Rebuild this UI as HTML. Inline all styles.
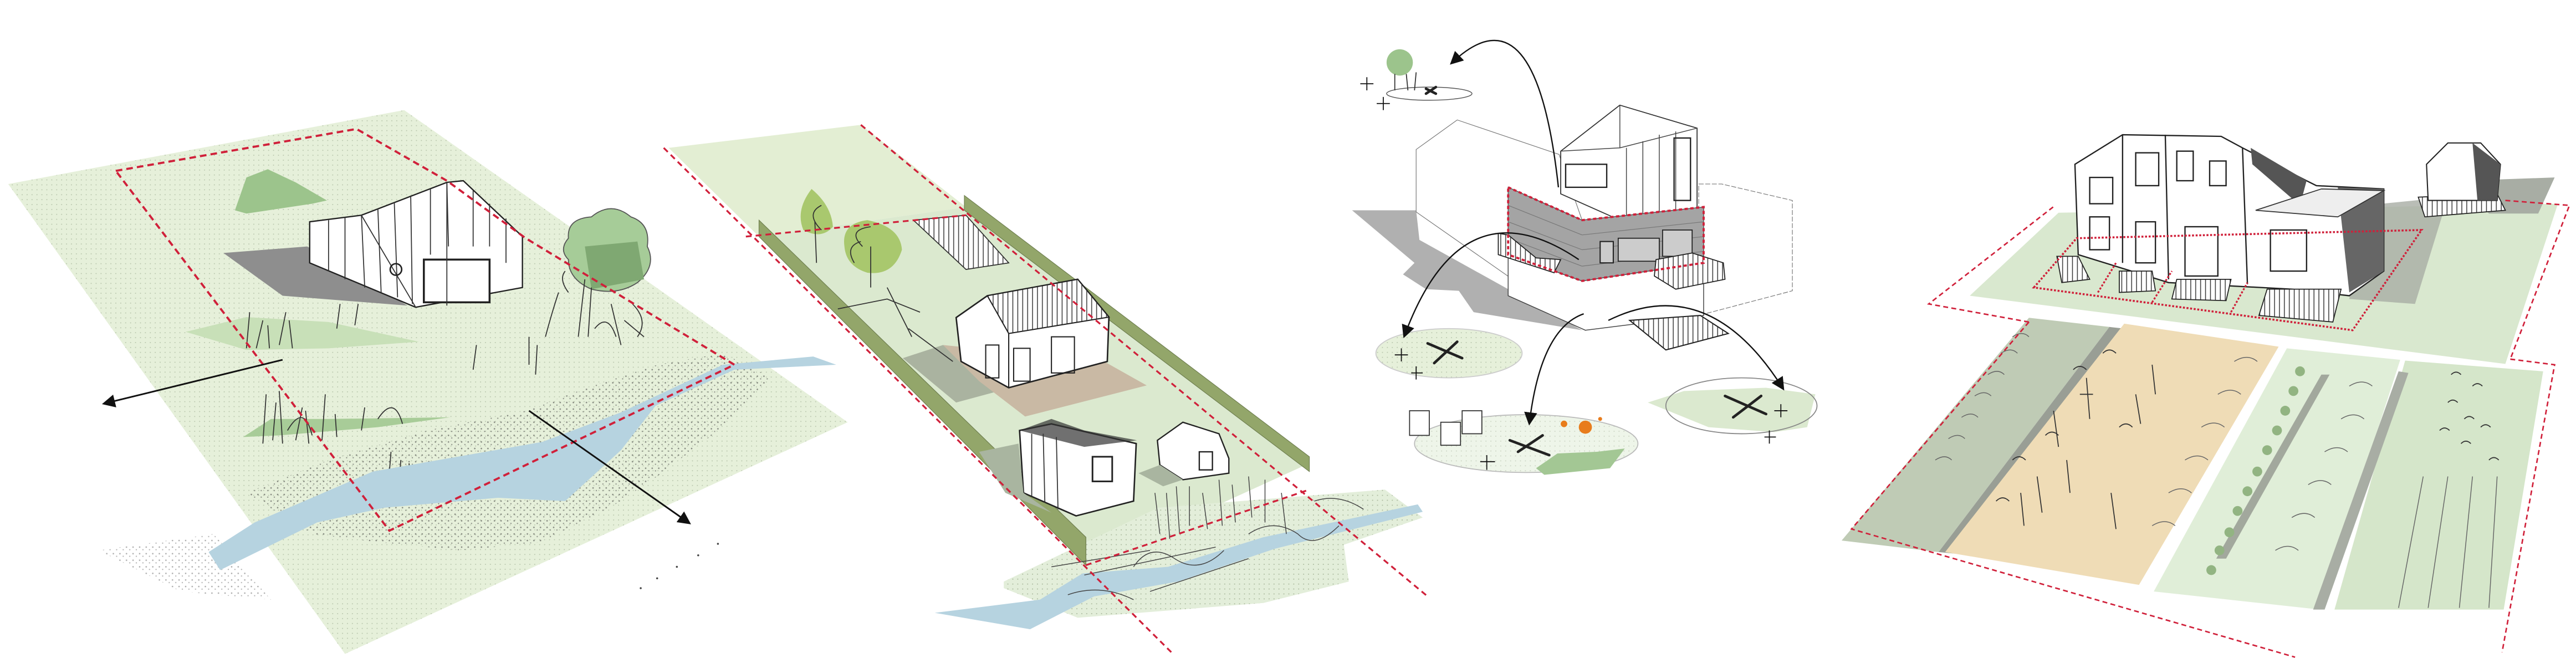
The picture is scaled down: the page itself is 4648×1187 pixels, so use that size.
<!DOCTYPE html>
<html><head><meta charset="utf-8"><style>
html,body{margin:0;padding:0;background:#fff;width:4648px;height:1187px;overflow:hidden}
svg{display:block}
</style></head><body>
<svg width="4648" height="1187" viewBox="0 0 1568 400.5" preserveAspectRatio="none" xmlns="http://www.w3.org/2000/svg">
<defs>
<pattern id="dots" width="3" height="3" patternUnits="userSpaceOnUse"><rect width="3" height="3" fill="#e6f0da"/><circle cx="1.5" cy="1.5" r="0.35" fill="#b9c7ad"/></pattern>
<pattern id="dots2" width="3" height="3" patternUnits="userSpaceOnUse"><rect width="3" height="3" fill="#e3eeda"/><circle cx="1.5" cy="1.5" r="0.35" fill="#a9b89c"/></pattern>
<pattern id="speck" width="4" height="4" patternUnits="userSpaceOnUse"><circle cx="1" cy="1" r="0.45" fill="#333"/><circle cx="3" cy="2.6" r="0.4" fill="#444"/></pattern>
<pattern id="vl" width="3" height="3" patternUnits="userSpaceOnUse"><rect width="3" height="3" fill="#fff"/><line x1="1.5" y1="0" x2="1.5" y2="3" stroke="#333" stroke-width="0.5"/></pattern>
<marker id="ah" markerWidth="8" markerHeight="8" refX="6" refY="4" orient="auto" markerUnits="userSpaceOnUse"><path d="M0,0 L8,4 L0,8 z" fill="#111"/></marker>
</defs>

<!-- ================= PANEL 1 ================= -->
<polygon points="5,112 246,67 516,257 210,398" fill="url(#dots)"/>
<polygon points="150,300 200,280 260,262 320,250 360,235 400,222 440,215 470,230 440,260 400,290 370,310 330,330 280,335 230,330 190,325" fill="url(#speck)" opacity="0.55"/>
<polygon points="60,335 130,325 165,365 110,360" fill="url(#speck)" opacity="0.4"/>
<!-- green blobs -->
<polygon points="143,128 150,108 163,103 180,111 199,122 190,124 150,130" fill="#9cc48c"/>
<polygon points="113,202 150,193 200,196 255,208 200,212 150,213" fill="#c8e0b8"/>
<polygon points="148,266 165,255 200,255 274,254 230,260 170,265" fill="#a8cc98"/>
<!-- shadow -->
<polygon points="136,154 187,150 248,186 172,180" fill="#8e8e8e"/>
<!-- house -->
<polygon points="188.5,135 220,131 272,111 282,110 318,144 318,175 253,187 188.5,160" fill="#fff" stroke="#222" stroke-width="0.8"/>
<rect x="258" y="158" width="40" height="26" fill="#fff" stroke="#222" stroke-width="1.2"/>
<g stroke="#333" stroke-width="0.6">
<line x1="200" y1="134" x2="200" y2="165"/><line x1="210" y1="132" x2="210" y2="170"/><line x1="220" y1="131" x2="222" y2="175"/><line x1="230" y1="127" x2="232" y2="178"/><line x1="240" y1="123" x2="242" y2="181"/><line x1="250" y1="119" x2="251" y2="185"/><line x1="262" y1="115" x2="262" y2="155"/><line x1="272" y1="111" x2="273" y2="150"/><line x1="288" y1="116" x2="288" y2="150"/><line x1="298" y1="124" x2="298" y2="150"/><line x1="308" y1="133" x2="308" y2="160"/>
<line x1="220" y1="131" x2="253" y2="187"/><line x1="272" y1="111" x2="272" y2="186"/>
</g>
<circle cx="241" cy="164" r="3.5" fill="none" stroke="#222" stroke-width="0.9"/>
<!-- tree -->
<path d="M346,145 Q345,133 360,132 Q372,122 384,132 Q396,136 394,150 Q400,162 388,172 Q376,180 360,176 Q346,170 346,158 Q340,152 346,145z" fill="#a6cc98" stroke="#555" stroke-width="0.6"/>
<path d="M356,150 L388,147 L392,170 L360,176z" fill="#7fa872"/>
<g stroke="#333" stroke-width="0.6" fill="none">
<path d="M352,205 L356,170 M358,205 L360,175 M372,185 L378,210 M380,195 L392,205 M332,205 Q336,190 340,178 M346,178 Q340,170 344,165 M362,200 Q370,190 375,205 M385,185 Q395,195 388,205"/>
<path d="M150,212 L152,190 M156,212 L160,195 M164,212 L163,198 M170,210 L174,190 M178,212 L176,195 M160,270 L162,240 M166,268 L168,245 M172,270 L170,238 M180,268 L184,248 M188,270 L186,250 M196,268 L198,240 M205,266 L204,252 M220,262 L222,248 M236,300 L238,275 M242,305 L244,280 M250,300 L249,282 M288,225 L290,210 M322,222 L322,205 M326,228 L327,210 M205,200 L207,185 M216,198 L218,185 M175,262 Q185,245 190,265 M230,255 Q240,240 245,258"/>
</g>
<!-- river -->
<polygon points="127,336 155,318 227,287 330,269 378,251 440,222 495,217 509,222 447,225 399,247 378,274 344,305 303,303 234,309 193,318 134,347" fill="#b6d3e0"/>
<!-- red dashed -->
<polygon points="70.5,104 217,78.5 272,110 320,145 447,222 237,323" fill="none" stroke="#d0203a" stroke-width="1.3" stroke-dasharray="4,2.5"/>
<!-- arrows -->
<line x1="172" y1="219" x2="64" y2="245.5" stroke="#111" stroke-width="1" marker-end="url(#ah)"/>
<line x1="322" y1="250" x2="419" y2="318" stroke="#111" stroke-width="1" marker-end="url(#ah)"/>
<g fill="#444"><circle cx="390" cy="358" r="0.6"/><circle cx="400" cy="352" r="0.6"/><circle cx="412" cy="345" r="0.6"/><circle cx="425" cy="338" r="0.6"/><circle cx="437" cy="331" r="0.6"/></g>

<!-- ================= PANEL 2 ================= -->
<polygon points="407,90 524,76 588,126 462,144" fill="#e3eed3"/>
<polygon points="462,144 588,126 797,282 661,344" fill="#dbe9cf"/>
<polygon points="611,354 705,309 843,298 866,315 818,331.6 821,354 769,367 656,376 611,358" fill="url(#dots2)"/>
<polygon points="569,373 633,365 659,349 711,345 769,327 863,307 866,311.5 776,334 717,354 666,363 627,383 598,378" fill="#b6d3e0"/>
<polygon points="462,134 661,327 661,344 462,144" fill="#93a66a" stroke="#6f7f50" stroke-width="0.4"/>
<polygon points="587,119 797,278 797,287 587,128" fill="#93a66a" stroke="#6f7f50" stroke-width="0.4"/>
<polygon points="549.5,218 574,210 608,238 582,245" fill="#aab3a0"/>
<polygon points="574,210 672,220 698,234.6 624,253.5 596,232" fill="#c9b9a4"/>
<path d="M489,140 Q484,128 494,115 Q506,125 507,138 Q500,146 489,140z" fill="#a9c86e"/>
<path d="M514,150 Q512,136 528,134 Q548,138 549,152 Q544,168 528,166 Q515,162 514,150z" fill="#a9c86e"/>
<g stroke="#333" stroke-width="0.6" fill="none">
<path d="M497,160 L496,135 M530,175 L530,150 M520,160 Q514,150 524,147 M510,188 L540,182 L560,190 M540,175 L555,205 M553,200 L580,220 M500,140 Q490,130 500,125 M525,150 Q515,140 530,138"/>
</g>
<polygon points="556,134 588,131 614,160 588,164" fill="url(#vl)" stroke="#333" stroke-width="0.6"/>
<polygon points="582,193.3 601,180 656,170 675,193 674,220 614,236 585,220" fill="#fff" stroke="#222" stroke-width="0.9"/>
<polygon points="601,180 656,170 675,193 614,203" fill="url(#vl)" stroke="#222" stroke-width="0.7"/>
<g stroke="#222" stroke-width="0.7" fill="none"><rect x="600" y="210" width="8" height="20"/><rect x="617" y="212" width="10" height="20"/><rect x="640" y="205" width="14" height="22"/><line x1="614" y1="203" x2="614" y2="236"/></g>
<polygon points="620.6,262 640,258 691.6,270 690,305 655,314 623,300" fill="#fff" stroke="#222" stroke-width="0.9"/>
<polygon points="620.6,262 640,255 660,262 692,268 660,272" fill="#333" opacity="0.7"/>
<g stroke="#333" stroke-width="0.6"><line x1="628" y1="264" x2="628" y2="302"/><line x1="635" y1="264" x2="636" y2="306"/><line x1="643" y1="266" x2="644" y2="310"/></g>
<rect x="665" y="278" width="12" height="15" fill="#fff" stroke="#222" stroke-width="1"/>
<polygon points="596,275 620,270 623,300 640,312 612,300" fill="#a9b5a0"/>
<polygon points="704.5,268 720,257 742,264 748,279 748,288 720,292 706,283" fill="#fff" stroke="#222" stroke-width="0.8"/>
<polygon points="693,288 706,283 720,292 708,296" fill="#a9b5a0"/>
<rect x="730" y="275" width="8" height="11" fill="#fff" stroke="#222" stroke-width="0.8"/>
<g stroke="#444" stroke-width="0.5" fill="none"><path d="M703,300 L706,325 M710,300 L712,328 M716,296 L718,325 M724,296 L724,320 M732,300 L735,322 M742,292 L744,320 M750,295 L752,318 M760,290 L762,315 M770,292 L770,318 M780,300 L783,325 M640,345 L700,335 M660,350 L740,333 M700,360 L760,340 M690,345 Q700,330 715,340 Q730,350 745,335 M760,325 Q775,315 790,325 Q800,335 815,320 M650,362 Q670,355 690,365 M800,305 Q815,300 830,310"/></g>
<g fill="none" stroke="#d0203a" stroke-width="1.1" stroke-dasharray="3.5,2.5">
<line x1="404" y1="90" x2="714" y2="398"/>
<line x1="524" y1="76" x2="869" y2="363"/>
<line x1="454" y1="144" x2="588" y2="131"/>
<line x1="661" y1="344" x2="797" y2="298"/>
</g>

<!-- ================= PANEL 3 ================= -->
<polygon points="823,128 862,128 864,146 963,201 897,190 888,177 868,176 854,167 861,160" fill="#b0b0b0"/>
<polygon points="862,91 887,73 949,94 963,134 965,201 862,129" fill="#fff" stroke="#777" stroke-width="0.4"/>
<polygon points="1034,112 1048,112 1091,122 1091,177 1034,192" fill="#fff" stroke="#777" stroke-width="0.4" stroke-dasharray="3,1"/>
<polygon points="918,155 963,171 1037,160 1037,192 965,201 918,180" fill="#fff" stroke="#444" stroke-width="0.5"/>
<polygon points="950,92 986,64 1033,78 1033,127 986,134 950,118" fill="#fff" stroke="#333" stroke-width="0.6"/>
<g stroke="#444" stroke-width="0.5"><line x1="990" y1="90" x2="990" y2="133"/><line x1="1000" y1="86" x2="1000" y2="132"/><line x1="1010" y1="82" x2="1010" y2="130"/><line x1="1020" y1="80" x2="1020" y2="128"/><line x1="986" y1="64" x2="986" y2="90"/><line x1="950" y1="92" x2="986" y2="90"/><line x1="986" y1="90" x2="1033" y2="78"/></g>
<rect x="1019" y="84" width="10" height="38" fill="none" stroke="#222" stroke-width="0.8"/>
<rect x="953" y="100" width="25" height="14" fill="none" stroke="#222" stroke-width="0.8"/>
<polygon points="918,114 963,134 1037,126 1037,160 963,171 918,155" fill="#a4a4a4" stroke="#555" stroke-width="0.5"/>
<g stroke="#777" stroke-width="0.4"><line x1="918" y1="125" x2="963" y2="143"/><line x1="918" y1="135" x2="963" y2="152"/><line x1="918" y1="145" x2="963" y2="162"/><line x1="963" y1="143" x2="1037" y2="135"/><line x1="963" y1="152" x2="1037" y2="144"/><line x1="963" y1="162" x2="1037" y2="153"/></g>
<rect x="974" y="147" width="8" height="13" fill="#ccc" stroke="#222" stroke-width="0.7"/>
<rect x="985" y="145" width="25" height="14" fill="#ccc" stroke="#222" stroke-width="0.6"/>
<rect x="1012" y="140" width="18" height="16" fill="#ccc" stroke="#222" stroke-width="0.6"/>
<polygon points="912,142 918,143 935,157 950,158 946,166 912,155" fill="url(#vl)" stroke="#222" stroke-width="0.6"/>
<polygon points="1008,158 1030,154 1049,160 1050,170 1020,176 1007,168" fill="url(#vl)" stroke="#222" stroke-width="0.6"/>
<polygon points="918,114 963,134 1037,126 1037,160 963,171 918,155" fill="none" stroke="#d0203a" stroke-width="1.3" stroke-dasharray="2,1.5"/>
<polygon points="992,195 1035,192 1052,203 1014,213" fill="url(#vl)" stroke="#222" stroke-width="0.7"/>
<ellipse cx="882" cy="215" rx="44.5" ry="15" fill="url(#dots)" stroke="#ccc" stroke-width="0.6"/>
<ellipse cx="929" cy="270" rx="68" ry="17.6" fill="url(#dots2)" stroke="#bbb" stroke-width="0.6" fill-opacity="0.6"/>
<polygon points="935,285 948,276 972,275 989,273 980,285 940,289" fill="#a3c794"/>
<circle cx="965" cy="260" r="4" fill="#e87c1c"/><circle cx="952" cy="258" r="2" fill="#e87c1c"/><circle cx="974" cy="255" r="1.2" fill="#e87c1c"/>
<polygon points="1003,245 1025,238 1075,236 1105,240 1100,260 1080,263 1040,260" fill="#dbe9cf"/>
<ellipse cx="1060" cy="247" rx="46" ry="17" fill="none" stroke="#888" stroke-width="0.6"/>
<ellipse cx="870" cy="57" rx="26" ry="4" fill="none" stroke="#555" stroke-width="0.5"/>
<circle cx="852" cy="38" r="8" fill="#9cc48c"/>
<g stroke="#333" stroke-width="0.6"><line x1="849" y1="45" x2="849" y2="55"/><line x1="856" y1="45" x2="857" y2="55"/><line x1="862" y1="44" x2="861" y2="55"/></g>
<g stroke="#222" stroke-width="1.6" stroke-linecap="round">
<line x1="868" y1="54" x2="874" y2="57"/><line x1="874" y1="53" x2="868" y2="57"/>
<line x1="869" y1="209" x2="890" y2="218"/><line x1="887" y1="208" x2="873" y2="221"/>
<line x1="919" y1="268" x2="943" y2="277"/><line x1="939" y1="265" x2="924" y2="275"/>
<line x1="1050" y1="241" x2="1075" y2="252"/><line x1="1072" y1="241" x2="1055" y2="254"/>
</g>
<g stroke="#111" stroke-width="0.6">
<path d="M828,51 h8 M832,47 v8 M838,63 h8 M842,59 v8 M849,216 h8 M853,212 v8 M859,227 h7 M862,223 v8 M901,281 h9 M905,277 v9 M1080,250 h8 M1084,246 v8 M1074,266 h7 M1077,262 v8"/>
</g>
<g fill="#fff" stroke="#333" stroke-width="0.6"><rect x="858" y="250" width="12" height="15"/><rect x="877" y="257" width="12" height="14"/><rect x="890" y="250" width="12" height="14"/></g>
<g fill="none" stroke="#111" stroke-width="0.8">
<path d="M948.6,114 Q935,-10 884,38" marker-end="url(#ah)"/>
<path d="M961,158 Q890,110 855,204" marker-end="url(#ah)"/>
<path d="M964,191 Q938,200 931,257" marker-end="url(#ah)"/>
<path d="M979,195 Q1040,165 1085,236" marker-end="url(#ah)"/>
</g>

<!-- ================= PANEL 4 ================= -->
<polygon points="1199,180 1253,129.5 1557,124 1525,221.5" fill="#d9e8cf"/>
<polygon points="1500,110 1555,108 1545,130 1515,130" fill="#a8ada4"/>
<polygon points="1440,125 1490,120 1470,185 1430,182" fill="#a8ada4" opacity="0.8"/>
<polygon points="1263,100 1292,82 1352,83 1365,90 1404,110 1410,113 1451,115 1451,165 1430,180 1395,176 1320,172 1265,155" fill="#fff" stroke="#222" stroke-width="0.8"/>
<polygon points="1370,90 1404,110 1400,125 1371,100" fill="#555"/>
<polygon points="1423,114 1451,115 1451,165 1430,178" fill="#666"/>
<polygon points="1373,128 1413,115 1451,116 1423,132" fill="#eee" stroke="#333" stroke-width="0.6"/>
<g fill="none" stroke="#222" stroke-width="0.8">
<rect x="1272" y="108" width="14" height="16"/><rect x="1300" y="93" width="14" height="20"/><rect x="1325" y="92" width="10" height="18"/><rect x="1345" y="98" width="10" height="15"/>
<rect x="1272" y="132" width="12" height="20"/><rect x="1300" y="135" width="12" height="25"/><rect x="1330" y="138" width="20" height="30"/><rect x="1382" y="140" width="22" height="25"/>
<line x1="1292" y1="82" x2="1292" y2="160"/><line x1="1318" y1="82" x2="1320" y2="170"/><line x1="1365" y1="90" x2="1368" y2="173"/>
</g>
<g fill="url(#vl)" stroke="#222" stroke-width="0.6">
<polygon points="1252,156 1265,156 1272,170 1255,172"/><polygon points="1290,165 1310,165 1312,177 1290,178"/><polygon points="1325,170 1358,170 1355,183 1322,182"/><polygon points="1380,176 1425,176 1420,196 1375,192"/>
<polygon points="1472,120 1520,118 1525,128 1476,132"/>
</g>
<polygon points="1477,100 1490,87 1510,87 1522,100 1520,122 1478,122" fill="#fff" stroke="#222" stroke-width="0.7"/>
<polygon points="1505,87 1522,100 1520,122 1508,122" fill="#555"/>
<polygon points="1238,175 1264,145 1474,140 1432,201" fill="none" stroke="#d0203a" stroke-width="1.2" stroke-dasharray="1.2,1"/>
<g stroke="#d0203a" stroke-width="1.1" stroke-dasharray="1.2,1"><line x1="1277" y1="178" x2="1288" y2="160"/><line x1="1310" y1="184" x2="1322" y2="165"/><line x1="1358" y1="190" x2="1368" y2="172"/></g>
<polygon points="1235,193.4 1284,199 1180,336 1121,329" fill="#bfcbb5"/>
<polygon points="1284,199 1293,200 1190,337 1180,336" fill="#999e95"/>
<polygon points="1293,197 1387,211 1302,356 1184,336" fill="#efdcb6"/>
<polygon points="1392,212 1461,219 1412,371 1311,360" fill="#e0eed8"/>
<polygon points="1413,228 1418,228 1355,340 1349,340" fill="#a2a89d"/>
<polygon points="1464,219.5 1548,226 1524,371 1421,371" fill="#d5e6ca"/>
<polygon points="1460,226 1466,227 1415,371 1408,371" fill="#a8ada4"/>
<g fill="#92b482">
<circle cx="1400" cy="226" r="3"/><circle cx="1396" cy="238" r="3"/><circle cx="1391" cy="250" r="3"/><circle cx="1386" cy="262" r="3"/><circle cx="1380" cy="274" r="3"/><circle cx="1374" cy="287" r="3"/><circle cx="1368" cy="299" r="3"/><circle cx="1362" cy="311" r="3"/><circle cx="1357" cy="324" r="3"/><circle cx="1351" cy="335" r="3"/><circle cx="1346" cy="347" r="3"/>
</g>
<g fill="none" stroke="#666" stroke-width="0.5">
<path d="M1225,205 q6,-4 10,0 M1218,215 q6,-4 10,0 M1210,228 q6,-4 10,0 M1202,241 q6,-4 10,0 M1194,254 q6,-4 10,0 M1186,267 q6,-4 10,0 M1178,280 q6,-4 10,0"/>
<path d="M1360,220 q8,-5 14,0 M1350,240 q8,-5 14,0 M1340,260 q8,-5 14,0 M1330,280 q8,-5 14,0 M1320,300 q8,-5 14,0 M1310,320 q8,-5 14,0"/>
<path d="M1430,235 q8,-5 14,0 M1425,255 q8,-5 14,0 M1415,275 q8,-5 14,0 M1405,295 q8,-5 14,0 M1395,315 q8,-5 14,0 M1385,335 q8,-5 14,0"/>
<path d="M1475,290 L1460,370 M1490,290 L1478,370 M1505,290 L1497,370 M1520,290 L1515,370"/>
</g>
<g stroke="#333" stroke-width="0.6" fill="none">
<path d="M1270,230 l2,25 M1266,240 h8 M1250,250 l3,22 M1258,280 l2,20 M1240,290 l3,22 M1285,300 l3,22 M1230,300 l2,20 M1300,240 l3,18 M1310,222 l2,18 M1280,215 q4,-4 8,0 M1262,225 q4,-4 8,0 M1245,265 q4,-4 8,0 M1225,280 q4,-4 8,0 M1215,305 q4,-4 8,0 M1290,260 q4,-4 8,0"/>
<path d="M1492,228 q3,-3 6,0 M1505,235 q3,-3 6,0 M1490,245 q3,-3 6,0 M1500,255 q3,-3 6,0 M1485,262 q3,-3 6,0 M1498,270 q3,-3 6,0 M1510,260 q3,-3 6,0 M1515,280 q3,-3 6,0"/>
</g>
<g fill="none" stroke="#d0203a" stroke-width="0.9" stroke-dasharray="3,2">
<polyline points="1235,196 1174,185 1251,125"/>
<polyline points="1525,122 1564,125 1528,218.6"/>
<polyline points="1235,196 1127,322 1397,400"/>
<polyline points="1528,218.6 1555,222 1523,397"/>
</g>
</svg>
</body></html>
